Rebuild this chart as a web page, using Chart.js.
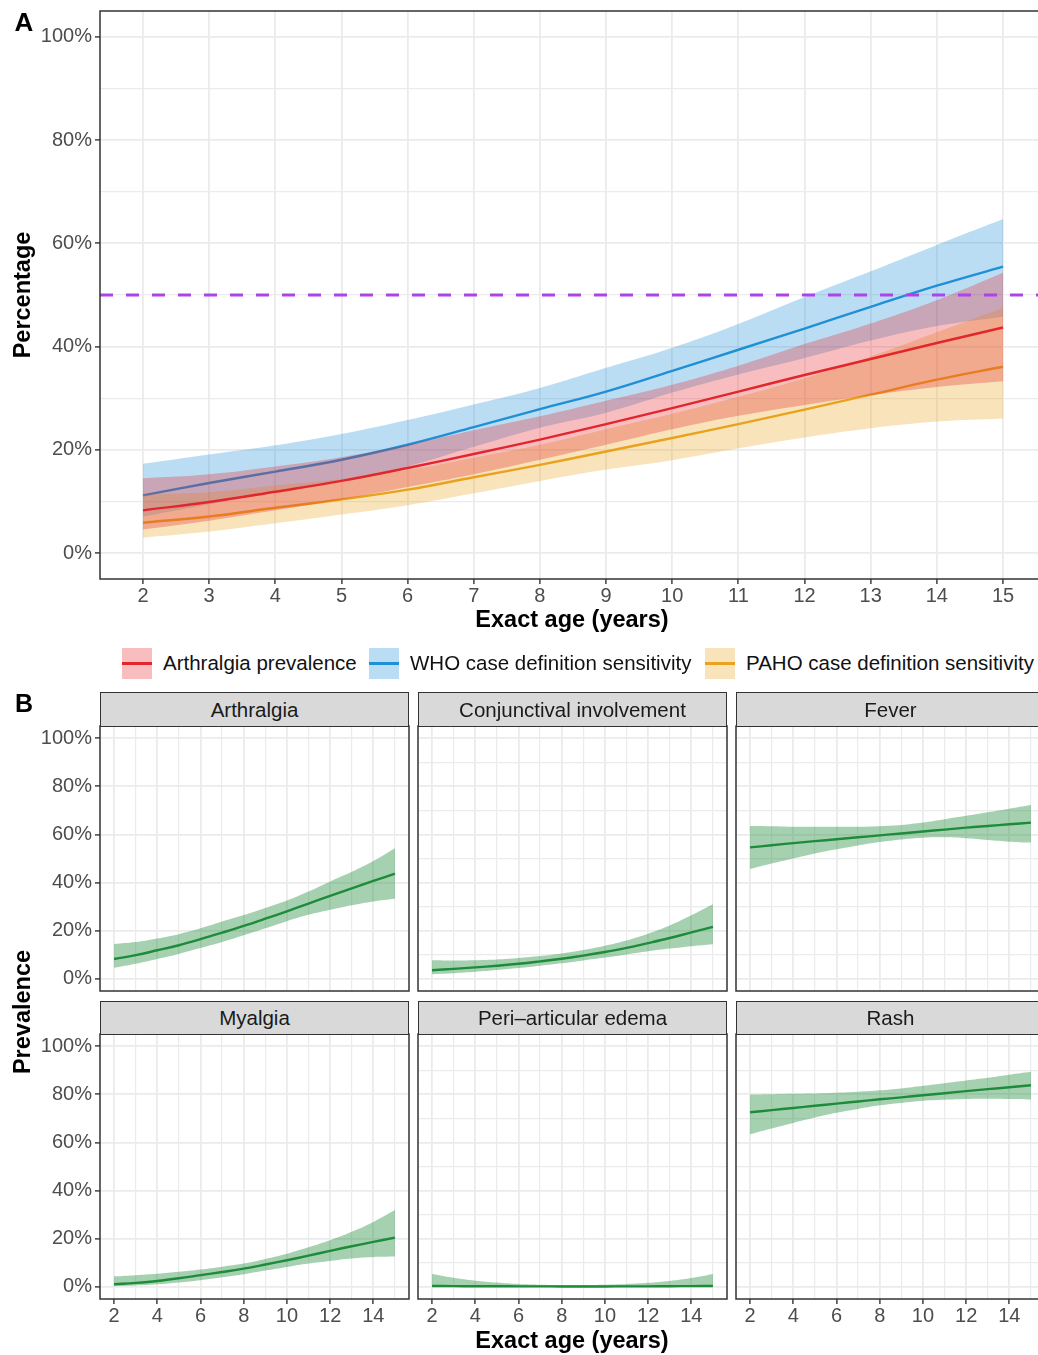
<!DOCTYPE html>
<html>
<head>
<meta charset="utf-8">
<script src="https://cdn.jsdelivr.net/npm/chart.js@4.4.1/dist/chart.umd.min.js"></script>
<style>
  body { margin: 0; width: 1038px; height: 1355px; overflow: hidden; background: #fff;
         position: relative; font-family: "Liberation Sans", Arial, sans-serif; }
  canvas { position: absolute; }
  .t { position: absolute; white-space: nowrap; line-height: 1; transform: translate(-50%, -50%); }
  .bold { font-weight: bold; color: #000; }
  .rot { transform: translate(-50%, -50%) rotate(-90deg); }
  .leg { position: absolute; white-space: nowrap; line-height: 1; font-size: 20.5px; color: #111; transform: translateY(-50%); top: 663px; }
  .key { position: absolute; top: 648px; width: 30px; height: 31px; }
  .key span { position: absolute; left: 0; right: 0; top: 14px; height: 3px; }
  .strip { position: absolute; width: 309px; box-sizing: border-box; background: #d9d9d9;
           border: 1.5px solid #333; display: flex; align-items: center; justify-content: center;
           font-size: 20.5px; color: #1a1a1a; }
</style>
</head>
<body>

<canvas id="panelA" width="1047" height="640" style="left:0;top:0"></canvas>
<canvas id="f0"></canvas><canvas id="f1"></canvas><canvas id="f2"></canvas>
<canvas id="f3"></canvas><canvas id="f4"></canvas><canvas id="f5"></canvas>

<div class="t bold" style="left:24px;top:22px;font-size:26px">A</div>
<div class="t bold rot" style="left:23px;top:295px;font-size:23.5px">Percentage</div>
<div class="t bold" style="left:572px;top:620px;font-size:23.5px">Exact age (years)</div>

<div class="key" style="left:122px;background:rgba(227,38,43,0.3)"><span style="background:#E3262B"></span></div>
<div class="leg" style="left:163px">Arthralgia prevalence</div>
<div class="key" style="left:369px;background:rgba(31,143,214,0.3)"><span style="background:#1F8FD6"></span></div>
<div class="leg" style="left:410px">WHO case definition sensitivity</div>
<div class="key" style="left:705px;background:rgba(233,162,28,0.3)"><span style="background:#E9A21C"></span></div>
<div class="leg" style="left:746px">PAHO case definition sensitivity</div>

<div class="t bold" style="left:24px;top:703px;font-size:25px">B</div>
<div class="t bold rot" style="left:23px;top:1012px;font-size:23.5px">Prevalence</div>
<div class="t bold" style="left:572px;top:1341px;font-size:23.5px">Exact age (years)</div>

<script>
  const ages = [2, 3, 4, 5, 6, 7, 8, 9, 10, 11, 12, 13, 14, 15];
  const percentTicks = [0, 10, 20, 30, 40, 50, 60, 70, 80, 90, 100];
  const ageTicks = [2, 3, 4, 5, 6, 7, 8, 9, 10, 11, 12, 13, 14, 15];
  const threshold = 50;

  // panel A (percent)
  const arthralgiaLine = [8.3, 9.9, 11.9, 14.0, 16.5, 19.2, 22.0, 25.0, 28.1, 31.3, 34.5, 37.6, 40.7, 43.7];
  const arthralgiaUpper = [14.5, 15.3, 16.8, 18.6, 21.0, 23.8, 26.5, 29.5, 32.6, 36.3, 40.5, 44.5, 49.0, 54.3];
  const arthralgiaLower = [4.6, 6.3, 8.3, 10.4, 12.8, 15.3, 18.1, 21.0, 24.0, 26.6, 28.7, 30.6, 32.2, 33.3];

  const whoLine = [11.2, 13.6, 15.8, 18.1, 21.0, 24.4, 27.9, 31.3, 35.3, 39.4, 43.5, 47.7, 51.8, 55.5];
  const whoUpper = [17.3, 19.1, 20.9, 23.1, 25.8, 28.8, 32.0, 35.9, 39.8, 44.4, 49.6, 54.6, 59.7, 64.7];
  const whoLower = [7.1, 9.5, 11.8, 14.0, 16.8, 20.6, 24.3, 27.2, 31.1, 34.6, 37.8, 41.2, 44.0, 45.8];

  const pahoLine = [5.9, 7.1, 8.8, 10.4, 12.3, 14.7, 17.1, 19.7, 22.3, 25.0, 27.8, 30.7, 33.6, 36.1];
  const pahoUpper = [11.3, 11.8, 13.1, 14.3, 16.1, 18.5, 21.0, 24.0, 27.0, 30.3, 33.9, 38.1, 42.8, 47.5];
  const pahoLower = [3.0, 4.2, 5.8, 7.5, 9.3, 11.6, 14.0, 16.2, 18.0, 20.3, 22.4, 24.2, 25.5, 26.1];

  // panel B (percent)
  const conjLine = [3.6, 4.2, 4.8, 5.5, 6.3, 7.3, 8.4, 9.7, 11.2, 12.9, 14.9, 17.0, 19.3, 21.6];
  const conjUpper = [7.8, 7.7, 7.8, 8.1, 8.7, 9.5, 10.6, 12.0, 13.8, 16.0, 18.8, 22.2, 26.4, 31.0];
  const conjLower = [2.0, 2.4, 3.0, 3.7, 4.5, 5.5, 6.5, 7.7, 8.9, 10.2, 11.5, 12.6, 13.6, 14.4];

  const feverLine = [54.6, 55.5, 56.4, 57.2, 58.0, 58.8, 59.6, 60.4, 61.2, 62.0, 62.8, 63.5, 64.2, 64.9];
  const feverUpper = [63.5, 63.4, 63.2, 63.2, 63.2, 63.2, 63.4, 63.9, 64.9, 66.3, 67.7, 69.2, 70.7, 72.2];
  const feverLower = [45.6, 47.9, 50.0, 52.1, 53.8, 55.4, 56.8, 57.9, 58.6, 58.8, 58.4, 57.7, 57.0, 56.6];

  const myalgiaLine = [1.1, 1.7, 2.5, 3.6, 4.9, 6.2, 7.6, 9.3, 11.1, 13.0, 15.0, 16.9, 18.7, 20.5];
  const myalgiaUpper = [4.4, 4.9, 5.5, 6.3, 7.2, 8.4, 9.7, 11.6, 13.8, 16.5, 19.4, 22.9, 27.0, 31.9];
  const myalgiaLower = [0.3, 0.6, 1.1, 1.9, 2.8, 4.0, 5.3, 6.8, 8.3, 9.7, 10.8, 11.8, 12.4, 12.6];

  const periLine = [0.4, 0.35, 0.3, 0.3, 0.25, 0.25, 0.2, 0.2, 0.2, 0.25, 0.25, 0.3, 0.35, 0.4];
  const periUpper = [5.4, 3.8, 2.6, 1.8, 1.2, 0.9, 0.8, 0.8, 0.9, 1.2, 1.7, 2.5, 3.7, 5.4];
  const periLower = [0, 0, 0, 0, 0, 0, 0, 0, 0, 0, 0, 0, 0, 0];

  const rashLine = [72.5, 73.4, 74.3, 75.2, 76.1, 77.0, 77.9, 78.7, 79.6, 80.4, 81.3, 82.1, 82.9, 83.7];
  const rashUpper = [79.9, 80.0, 80.2, 80.3, 80.6, 81.0, 81.6, 82.4, 83.5, 84.6, 85.7, 86.8, 88.1, 89.3];
  const rashLower = [63.4, 65.8, 68.1, 70.3, 72.3, 73.9, 75.4, 76.4, 77.3, 77.7, 78.0, 78.1, 78.0, 77.8];

  const facets = [
    { title: "Arthralgia", line: arthralgiaLine, upper: arthralgiaUpper, lower: arthralgiaLower },
    { title: "Conjunctival involvement", line: conjLine, upper: conjUpper, lower: conjLower },
    { title: "Fever", line: feverLine, upper: feverUpper, lower: feverLower },
    { title: "Myalgia", line: myalgiaLine, upper: myalgiaUpper, lower: myalgiaLower },
    { title: "Peri\u2013articular edema", line: periLine, upper: periUpper, lower: periLower },
    { title: "Rash", line: rashLine, upper: rashUpper, lower: rashLower },
  ];

  Chart.defaults.font.family = "'Liberation Sans', Arial, sans-serif";

  const panelBorder = {
    id: "panelBorder",
    afterDatasetsDraw(chart) {
      const { ctx, chartArea: a } = chart;
      ctx.save();
      ctx.strokeStyle = "#333333";
      ctx.lineWidth = 1.5;
      ctx.strokeRect(a.left, a.top, a.right - a.left, a.bottom - a.top);
      ctx.restore();
    },
  };

  function pts(values) {
    return ages.map((a, i) => ({ x: a, y: values[i] }));
  }

  function band(lower, upper, line, color, fillColor, order) {
    const common = { pointRadius: 0, tension: 0.4 };
    return [
      { ...common, data: pts(lower), borderWidth: 0, borderColor: "transparent", fill: false, order: order },
      { ...common, data: pts(upper), borderWidth: 0, borderColor: "transparent", fill: "-1", backgroundColor: fillColor, order: order },
      { ...common, data: pts(line), borderColor: color, borderWidth: 2.4, fill: false, order: order - 1 },
    ];
  }

  // the plot areas are placed by hand, so drop the label overhang padding
  function noPadding(s) {
    s.paddingTop = 0;
    s.paddingBottom = 0;
    s.paddingLeft = 0;
    s.paddingRight = 0;
  }

  const isPctMajor = (ctx) => ctx.tick && ctx.tick.value % 20 === 0;

  function yScale(showLabels, width) {
    return {
      type: "linear",
      min: -5,
      max: 105,
      afterBuildTicks: (s) => { s.ticks = percentTicks.map((v) => ({ value: v })); },
      afterFit: (s) => { s.width = width; noPadding(s); },
      border: { display: false },
      grid: {
        color: "#ebebeb",
        lineWidth: (ctx) => (isPctMajor(ctx) ? 1.8 : 1.2),
        drawTicks: showLabels,
        tickLength: 5,
        tickWidth: 1.4,
        tickColor: (ctx) => (isPctMajor(ctx) ? "#333333" : "rgba(0,0,0,0)"),
      },
      ticks: {
        display: showLabels,
        padding: 3,
        color: "#4d4d4d",
        font: { size: 20 },
        callback: (v) => (v % 20 === 0 ? v + "%" : ""),
      },
    };
  }

  function xScale(showLabels, height, isMajor, labelFn) {
    return {
      type: "linear",
      min: 1.35,
      max: 15.65,
      afterBuildTicks: (s) => { s.ticks = ageTicks.map((v) => ({ value: v })); },
      afterFit: (s) => { s.height = height; noPadding(s); },
      border: { display: false },
      grid: {
        color: "#ebebeb",
        lineWidth: (ctx) => (ctx.tick && isMajor(ctx.tick.value) ? 1.8 : 1.2),
        drawTicks: showLabels,
        tickLength: 5,
        tickWidth: 1.4,
        tickColor: (ctx) => (ctx.tick && isMajor(ctx.tick.value) ? "#333333" : "rgba(0,0,0,0)"),
      },
      ticks: {
        display: showLabels,
        autoSkip: false,
        maxRotation: 0,
        padding: 0,
        color: "#4d4d4d",
        font: { size: 20 },
        callback: labelFn,
      },
    };
  }

  const baseOptions = {
    responsive: false,
    animation: false,
    events: [],
    plugins: { legend: { display: false }, tooltip: { enabled: false } },
  };

  function drawPanelA() {
    const datasets = [
      ...band(whoLower, whoUpper, whoLine, "#1F8FD6", "rgba(31,143,214,0.3)", 6),
      ...band(pahoLower, pahoUpper, pahoLine, "#E9A21C", "rgba(233,162,28,0.3)", 4),
      ...band(arthralgiaLower, arthralgiaUpper, arthralgiaLine, "#E3262B", "rgba(227,38,43,0.3)", 2),
      {
        data: [{ x: 1.35, y: threshold }, { x: 15.65, y: threshold }],
        borderColor: "#AD43EA",
        borderWidth: 3,
        borderDash: [13, 13],
        pointRadius: 0,
        fill: false,
        order: 0,
      },
    ];
    new Chart(document.getElementById("panelA"), {
      type: "line",
      data: { datasets },
      options: {
        ...baseOptions,
        layout: { padding: { top: 11, right: 1, left: 0, bottom: 0 } },
        scales: {
          x: xScale(true, 61, () => true, (v) => v),
          y: yScale(true, 100),
        },
      },
      plugins: [panelBorder],
    });
  }

  function drawFacet(i) {
    const f = facets[i];
    const col = i % 3;
    const row = Math.floor(i / 3);
    const plotLeft = [100, 418, 736][col];
    const plotTop = [726, 1034][row];
    const stripTop = [692, 1001][row];
    const plotW = 309;
    const plotH = 265;
    const axisW = col === 0 ? 100 : 0;
    const axisH = row === 1 ? 40 : 0;

    const canvas = document.getElementById("f" + i);
    const left = col === 0 ? 0 : plotLeft - 1;
    canvas.width = (col === 0 ? axisW : 1) + plotW + 1;
    canvas.height = 1 + plotH + (axisH || 1);
    canvas.style.left = left + "px";
    canvas.style.top = plotTop - 1 + "px";

    const strip = document.createElement("div");
    strip.className = "strip";
    strip.style.left = plotLeft + "px";
    strip.style.top = stripTop + "px";
    strip.style.height = plotTop - stripTop + 1 + "px";
    strip.textContent = f.title;
    document.body.appendChild(strip);

    new Chart(canvas, {
      type: "line",
      data: { datasets: band(f.lower, f.upper, f.line, "#1E8B3B", "rgba(31,139,60,0.4)", 2) },
      options: {
        ...baseOptions,
        layout: { padding: { top: 1, right: 1, left: col === 0 ? 0 : 1, bottom: axisH ? 0 : 1 } },
        scales: {
          x: xScale(row === 1, axisH, (v) => v % 2 === 0, (v) => (v % 2 === 0 ? v : "")),
          y: yScale(col === 0, axisW),
        },
      },
      plugins: [panelBorder],
    });
  }

  window.onload = () => {
    drawPanelA();
    for (let i = 0; i < facets.length; i++) drawFacet(i);
  };
</script>
</body>
</html>
